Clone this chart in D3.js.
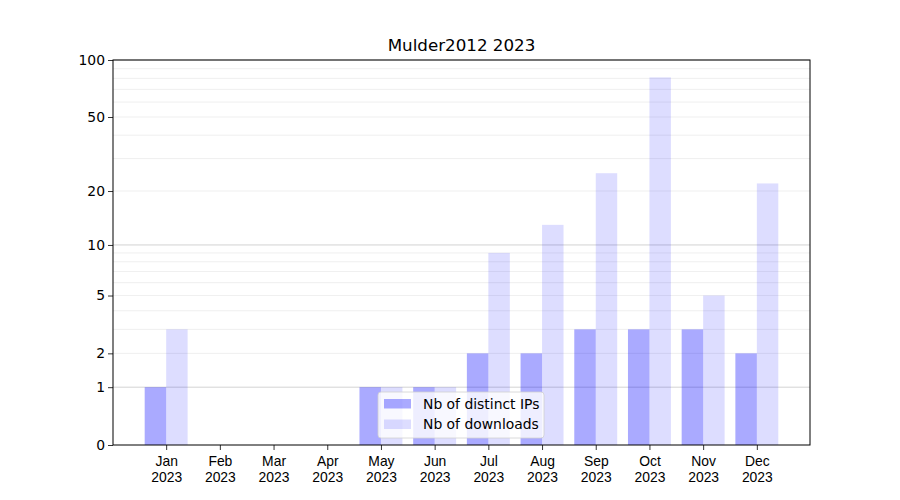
<!DOCTYPE html>
<html>
<head>
<meta charset="utf-8">
<script src="https://cdn.jsdelivr.net/npm/d3@7"></script>
<style>
  body { margin: 0; background: #fff; }
  svg { font-family: "DejaVu Sans", sans-serif; }
</style>
</head>
<body>
<svg id="chart" width="900" height="500"></svg>
<script>
const months = ["Jan", "Feb", "Mar", "Apr", "May", "Jun", "Jul", "Aug", "Sep", "Oct", "Nov", "Dec"];
const year = "2023";
const distinctIPs = [1, 0, 0, 0, 1, 1, 2, 2, 3, 3, 3, 2];
const downloads = [3, 0, 0, 0, 1, 1, 9, 13, 25, 81, 5, 22];
const yTicks = [0, 1, 2, 5, 10, 20, 50, 100];
const majorGrid = [1, 10, 100];
const minorGrid = [2, 3, 4, 5, 6, 7, 8, 9, 20, 30, 40, 50, 60, 70, 80, 90];
const seriesNames = ["Nb of distinct IPs", "Nb of downloads"];
const title = "Mulder2012 2023";

(function () {
const svg = d3.select("#chart");
const plotL = 113, plotR = 810, plotT = 60, plotB = 445;
const barW = 0.4;
const fs = 13.9;

const x = d3.scaleLinear().domain([-0.99, 11.99]).range([plotL, plotR]);
const y = d3.scaleSymlog().constant(1).domain([0, 100]).range([plotB, plotT]);

// grid lines
svg.append("g").selectAll("line").data(minorGrid).join("line")
  .attr("x1", plotL).attr("x2", plotR)
  .attr("y1", d => y(d)).attr("y2", d => y(d))
  .attr("stroke", "#ebebeb").attr("stroke-width", 0.8);
svg.append("g").selectAll("line").data(majorGrid).join("line")
  .attr("x1", plotL).attr("x2", plotR)
  .attr("y1", d => y(d)).attr("y2", d => y(d))
  .attr("stroke", "#c8c8c8").attr("stroke-width", 0.8);

// bars
svg.append("g").selectAll("rect").data(distinctIPs).join("rect")
  .attr("x", (d, i) => x(i - barW))
  .attr("width", (d, i) => x(i) - x(i - barW))
  .attr("y", d => y(d))
  .attr("height", d => y(0) - y(d))
  .attr("fill", "blue").attr("fill-opacity", 0.333);
svg.append("g").selectAll("rect").data(downloads).join("rect")
  .attr("x", (d, i) => x(i))
  .attr("width", (d, i) => x(i + barW) - x(i))
  .attr("y", d => y(d))
  .attr("height", d => y(0) - y(d))
  .attr("fill", "blue").attr("fill-opacity", 0.135);

// axes
const xAxis = d3.axisBottom(x).tickValues(d3.range(12)).tickSize(5).tickFormat("");
const gx = svg.append("g").attr("transform", `translate(0,${plotB})`).call(xAxis);
gx.select(".domain").remove();
gx.selectAll(".tick line").attr("stroke", "#000").attr("stroke-width", 0.8);
gx.selectAll(".tick").each(function (d) {
  const t = d3.select(this).append("text").attr("fill", "#000")
    .attr("font-size", fs).attr("text-anchor", "middle");
  t.append("tspan").attr("x", 0).attr("y", 21).text(months[d]);
  t.append("tspan").attr("x", 0).attr("y", 37).text(year);
});

const yAxis = d3.axisLeft(y).tickValues(yTicks).tickSize(5).tickFormat(d3.format("d"));
const gy = svg.append("g").attr("transform", `translate(${plotL},0)`).call(yAxis);
gy.select(".domain").remove();
gy.selectAll(".tick line").attr("stroke", "#000").attr("stroke-width", 0.8);
gy.selectAll(".tick text").attr("fill", "#000").attr("font-size", fs)
  .attr("x", -8).attr("font-family", "DejaVu Sans");

// frame
svg.append("rect").attr("x", plotL).attr("y", plotT)
  .attr("width", plotR - plotL).attr("height", plotB - plotT)
  .attr("fill", "none").attr("stroke", "#000").attr("stroke-width", 1);

// title
svg.append("text").attr("x", (plotL + plotR) / 2).attr("y", 51)
  .attr("text-anchor", "middle").attr("font-size", 16.7).attr("fill", "#000")
  .text(title);

// legend
const lg = svg.append("g").attr("transform", "translate(378,392)");
lg.append("rect").attr("width", 166).attr("height", 46).attr("rx", 3)
  .attr("fill", "#fff").attr("fill-opacity", 0.8)
  .attr("stroke", "#d0d0d0").attr("stroke-width", 0.8);
const opac = [0.333, 0.135];
seriesNames.forEach((name, i) => {
  lg.append("rect").attr("x", 6).attr("y", 7 + i * 20.5).attr("width", 27).attr("height", 9.5)
    .attr("fill", "blue").attr("fill-opacity", opac[i]);
  lg.append("text").attr("x", 45).attr("y", 16.5 + i * 20.5)
    .attr("font-size", fs).attr("fill", "#000").text(name);
});
})();
</script>
</body>
</html>
